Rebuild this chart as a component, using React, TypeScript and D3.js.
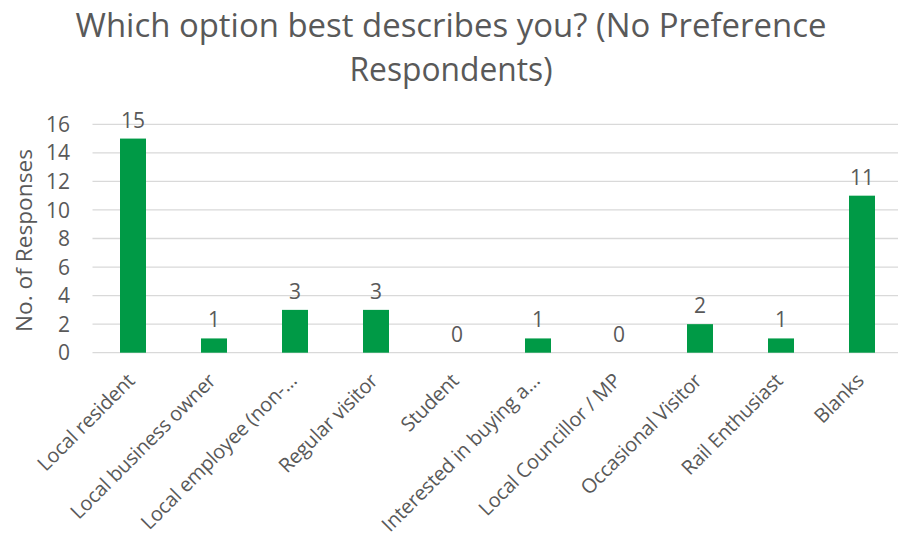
import React from "react";
import * as d3 from "d3";

const categories: string[] = [
  "Local resident",
  "Local business owner",
  "Local employee (non-…",
  "Regular visitor",
  "Student",
  "Interested in buying a…",
  "Local Councillor / MP",
  "Occasional Visitor",
  "Rail Enthusiast",
  "Blanks",
];
const values: number[] = [15, 1, 3, 3, 0, 1, 0, 2, 1, 11];
const yTicks: number[] = [0, 2, 4, 6, 8, 10, 12, 14, 16];
const titleLines: string[] = ["Which option best describes you? (No Preference", "Respondents)"];
const yAxisTitle = "No. of Responses";

const W = 898;
const H = 539;
const FONT = "'Open Sans', 'Noto Sans', sans-serif";
const TEXT = "#595959";
const BAR = "#009A46";
const GRID = "#D9D9D9";

export default function App() {
  const x = d3
    .scaleBand<string>()
    .domain(categories)
    .range([92.5, 902.5])
    .paddingInner(0.679)
    .paddingOuter(0.3395);
  const y = d3.scaleLinear().domain([0, 16]).range([352.7, 124.3]);

  return (
    <svg
      width={W}
      height={H}
      style={{ position: "absolute", left: 0, top: 0, background: "#fff" }}
      fontFamily={FONT}
    >
      <rect x={0} y={0} width={W} height={H} fill="#fff" />
      {/* title */}
      <text x={451} y={37} textAnchor="middle" fontSize={33} fill={TEXT} textLength={751} lengthAdjust="spacingAndGlyphs">
        {titleLines[0]}
      </text>
      <text x={451} y={81} textAnchor="middle" fontSize={33} fill={TEXT} textLength={203} lengthAdjust="spacingAndGlyphs">
        {titleLines[1]}
      </text>

      {/* gridlines */}
      {yTicks.map((t) => (
        <line key={"g" + t} x1={92.5} x2={W} y1={y(t)} y2={y(t)} stroke={GRID} strokeWidth={1.3} />
      ))}
      {/* y tick labels */}
      {yTicks.map((t) => (
        <text key={"t" + t} x={70} y={y(t)} dy="0.36em" textAnchor="end" fontSize={21} fill={TEXT}>
          {t}
        </text>
      ))}
      {/* y axis title */}
      <text
        transform={`translate(32, ${y(8) + 2}) rotate(-90)`}
        textAnchor="middle"
        fontSize={22}
        fill={TEXT}
        textLength={183}
        lengthAdjust="spacingAndGlyphs"
      >
        {yAxisTitle}
      </text>

      {/* bars */}
      {categories.map((c, i) => (
        <rect
          key={"b" + c}
          x={x(c)!}
          width={x.bandwidth()}
          y={y(values[i])}
          height={y(0) - y(values[i])}
          fill={BAR}
        />
      ))}
      {/* value labels */}
      {categories.map((c, i) => (
        <text
          key={"v" + c}
          x={x(c)! + x.bandwidth() / 2}
          y={y(values[i]) - 11}
          textAnchor="middle"
          fontSize={21}
          fill={TEXT}
        >
          {values[i]}
        </text>
      ))}
      {/* category labels */}
      {categories.map((c) => {
        const cx = x(c)! + x.bandwidth() / 2;
        return (
          <text
            key={"c" + c}
            transform={`translate(${cx + 3}, 382) rotate(-45)`}
            textAnchor="end"
            fontSize={20}
            letterSpacing={-0.2}
            fill={TEXT}
          >
            {c}
          </text>
        );
      })}
    </svg>
  );
}
